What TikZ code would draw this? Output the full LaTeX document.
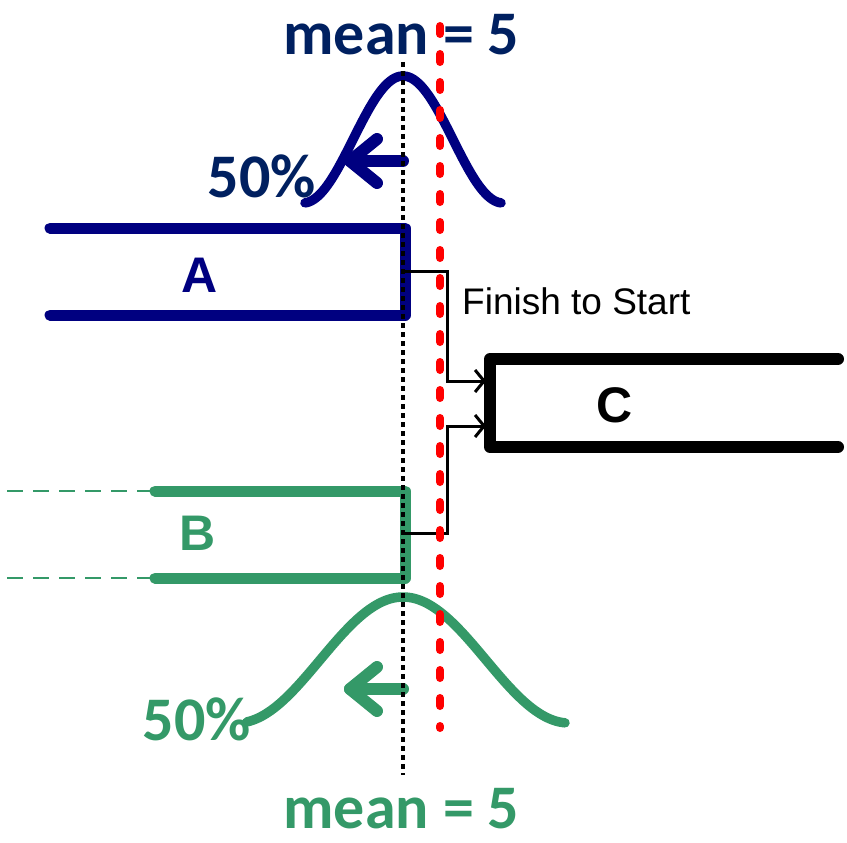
\documentclass[tikz,border=0pt]{standalone}
\usepackage{fontspec}
\setmainfont{Liberation Sans}
\newfontfamily\calib{Carlito}
\usetikzlibrary{arrows.meta}
\definecolor{navytxt}{RGB}{0,32,96}
\definecolor{navy}{RGB}{0,0,128}
\definecolor{grn}{RGB}{52,153,104}
\definecolor{redd}{RGB}{255,0,0}
\begin{document}
\begin{tikzpicture}[x=1pt,y=-1pt,
  bar/.style={line width=11pt, line cap=round, line join=round},
  bell/.style={line width=9.5pt, line cap=round},
  leftarrow/.style={line width=12pt, line cap=round, line join=round},
  link/.style={line width=3pt},
  linktip/.style={-{Straight Barb[length=9pt,width=22pt]}},
  bigtxt/.style={anchor=base, inner sep=0pt, font=\calib\bfseries\fontsize{62}{62}\selectfont},
  lettertxt/.style={anchor=base, inner sep=0pt, font=\bfseries\fontsize{50}{50}\selectfont},
  ghost/.style={line width=2.2pt, dash pattern=on 16pt off 10pt}
]
\useasboundingbox (0,0) rectangle (847,843);

% texts
\node[bigtxt, text=navytxt] (meantop) at (401.5,55) {mean = 5};
\node[bigtxt, text=navytxt] (pcttop) at (262,197) {50\%};
\node[bigtxt, text=grn] (meanbot) at (401.5,828) {mean = 5};
\node[bigtxt, text=grn] (pctbot) at (197,740) {50\%};
\node[lettertxt, text=navy] (labA) at (200,292) {A};
\node[lettertxt, text=grn] (labB) at (198,550) {B};
\node[lettertxt, text=black] (labC) at (615,422) {C};
\node[anchor=base west, inner sep=0pt, font=\fontsize{37}{37}\selectfont] (fts) at (462,314) {Finish to Start};

% bell curves
\draw[bell, navy] plot[domain=-98:98, samples=90] ({403+\x},{203-63.5*(1+cos(1.8*\x))});
\draw[bell, grn] plot[domain=-156:162, samples=110] ({403+\x},{723-63*(1+cos(1.0843*\x))});

% 50% arrows
\coordinate (ta0) at (403,161);
\coordinate (ta1) at (350,161);
\draw[leftarrow, navy] (ta0) -- (ta1);
\draw[leftarrow, navy] (377,139) -- (ta1) -- (377,183);
\coordinate (ba0) at (403,689);
\coordinate (ba1) at (350,689);
\draw[leftarrow, grn] (ba0) -- (ba1);
\draw[leftarrow, grn] (377,667) -- (ba1) -- (377,711);

% bar A
\coordinate (A1) at (50,228);
\coordinate (A2) at (405,228);
\coordinate (A3) at (405,315);
\coordinate (A4) at (50,315);
\draw[bar, navy] (A1) -- (A2) -- (A3) -- (A4);
% bar B
\coordinate (B1) at (155,491);
\coordinate (B2) at (405,491);
\coordinate (B3) at (405,578);
\coordinate (B4) at (155,578);
\coordinate (Bd1) at (7,491);
\coordinate (Bd4) at (7,578);
\draw[bar, grn] (B1) -- (B2) -- (B3) -- (B4);
\draw[ghost, grn] (Bd1) -- (B1);
\draw[ghost, grn] (Bd4) -- (B4);
% bar C
\coordinate (C1) at (838,359);
\coordinate (C2) at (490,359);
\coordinate (C3) at (490,447);
\coordinate (C4) at (838,447);
\draw[bar, line width=12pt, black] (C1) -- (C2) -- (C3) -- (C4);

% links
\coordinate (Aend) at (405,271);
\coordinate (Bend) at (405,533);
\coordinate (Cin1) at (486,381);
\coordinate (Cin2) at (486,426);
\draw[link, linktip] (Aend) -- ++(42,0) |- (Cin1);
\draw[link, linktip] (Bend) -- ++(42,0) |- (Cin2);

% mean line and shifted line
\coordinate (m0) at (403,62);
\coordinate (m1) at (403,775);
\draw[line width=3.5pt, dash pattern=on 5pt off 4pt] (m0) -- (m1);
\coordinate (r0) at (440,26);
\coordinate (r1) at (440,728);
\draw[redd, line width=8pt, line cap=round, dash pattern=on 8pt off 20pt] (r0) -- (r1);
\end{tikzpicture}
\end{document}
